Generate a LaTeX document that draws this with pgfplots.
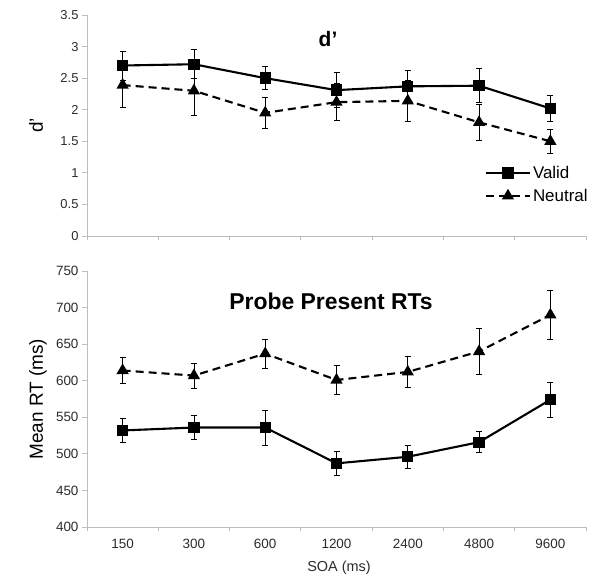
\documentclass[border=0pt]{standalone}
\usepackage{pgfplots}
\pgfplotsset{compat=1.18}
\usepackage{fontspec}
\setmainfont{Liberation Sans}
\definecolor{axgray}{HTML}{BDBDBD}
\definecolor{txt}{HTML}{2B2B2B}
\pgfplotsset{
  myaxis/.style={
    scale only axis, width=499bp,
    xmin=-0.5, xmax=6.5,
    axis lines*=left,
    axis line style={draw=axgray, line width=0.9bp},
    xtick={0,...,6},
    minor xtick={-0.5,0.5,...,6.5},
    major tick length=5bp, minor tick length=4bp,
    major x tick style={draw=none},
    minor x tick style={draw=axgray, line width=0.8bp},
    major y tick style={draw=axgray, line width=0.8bp},
    tick align=outside,
    /pgf/number format/assume math mode=true,
    tick label style={text=txt},
    clip=false,
  },
  validstyle/.style={black, line width=2.1bp, mark=square*, mark size=4.6bp, mark options={solid},
    error bars/.cd, y dir=both, y explicit,
    error bar style={line width=0.8bp, black, solid},
    error mark options={rotate=90, mark size=3bp, line width=0.8bp, black}},
  neutralstyle/.style={black, line width=2.1bp, dash pattern=on 8bp off 5bp, mark=triangle*, mark size=5bp, mark options={solid},
    error bars/.cd, y dir=both, y explicit,
    error bar style={line width=0.8bp, black, solid},
    error mark options={rotate=90, mark size=3bp, line width=0.8bp, black}},
}
\begin{document}
\begin{tikzpicture}
\useasboundingbox (0bp,0bp) rectangle (601bp,583bp);
% ---------- top: d'
\begin{axis}[myaxis, at={(87bp,347bp)}, anchor=south west, height=221bp,
  ymin=0, ymax=3.5, ytick={0,0.5,...,3.5},
  xticklabels={,,,,,,},
  yticklabel style={font=\fontsize{13}{15}\selectfont},
  ylabel={d’}, ylabel style={font=\fontsize{19}{22}\selectfont, at={(axis description cs:-0.102,0.5)}, anchor=center},
  legend style={at={(axis description cs:0.795,0.33)}, anchor=north west, draw=none, fill=none,
    font=\fontsize{17}{19}\selectfont, row sep=5bp, inner sep=1bp},
  legend cell align=left, reverse legend,
  legend image code/.code={\draw[#1, mark repeat=2, mark phase=2] plot coordinates {(0bp,0bp) (22bp,0bp) (44bp,0bp)};},
]
\addplot+[neutralstyle] coordinates {
  (0,2.39) +- (0,0.35)
  (1,2.30) +- (0,0.39)
  (2,1.95) +- (0,0.25)
  (3,2.12) +- (0,0.29)
  (4,2.14) +- (0,0.33)
  (5,1.80) +- (0,0.28)
  (6,1.50) +- (0,0.19)
};
\addlegendentry{Neutral}
\addplot+[validstyle] coordinates {
  (0,2.70) +- (0,0.23)
  (1,2.72) +- (0,0.23)
  (2,2.50) +- (0,0.18)
  (3,2.31) +- (0,0.28)
  (4,2.37) +- (0,0.25)
  (5,2.38) +- (0,0.27)
  (6,2.02) +- (0,0.21)
};
\addlegendentry{Valid}
\node[font=\bfseries\fontsize{21}{24}\selectfont] at (axis description cs:0.483,0.891) {d’};
\end{axis}
% ---------- bottom: RTs
\begin{axis}[myaxis, at={(87bp,56bp)}, anchor=south west, height=256bp,
  ymin=400, ymax=750, ytick={400,450,...,750},
  xticklabels={150,300,600,1200,2400,4800,9600},
  tick label style={font=\fontsize{13.5}{15}\selectfont},
  xticklabel style={yshift=-4bp},
  ylabel={Mean RT (ms)}, ylabel style={font=\fontsize{19}{22}\selectfont, at={(axis description cs:-0.098,0.5)}, anchor=center},
  xlabel={SOA (ms)}, xlabel style={font=\fontsize{14.5}{17}\selectfont, text=txt, at={(axis description cs:0.505,-0.16)}, anchor=center},
]
\addplot+[neutralstyle] coordinates {
  (0,614) +- (0,18)
  (1,607) +- (0,17)
  (2,637) +- (0,20)
  (3,601) +- (0,20)
  (4,612) +- (0,21)
  (5,640) +- (0,31)
  (6,690) +- (0,34)
};
\addplot+[validstyle] coordinates {
  (0,532) +- (0,17)
  (1,536) +- (0,16)
  (2,536) +- (0,24)
  (3,487) +- (0,17)
  (4,496) +- (0,15.5)
  (5,516) +- (0,14.5)
  (6,574) +- (0,24)
};
\node[font=\bfseries\fontsize{23}{26}\selectfont] at (axis description cs:0.489,0.883) {Probe Present RTs};
\end{axis}
\end{tikzpicture}
\end{document}
